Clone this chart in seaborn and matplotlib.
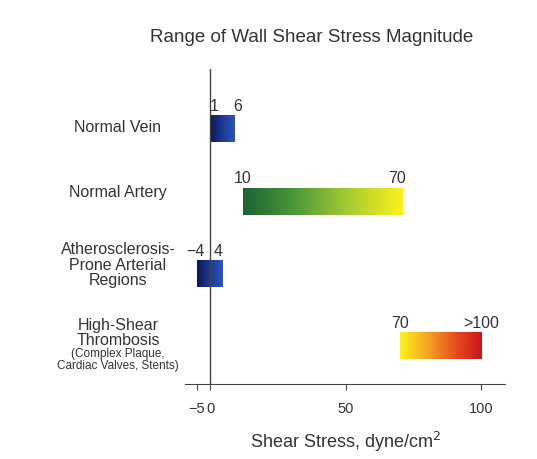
import matplotlib
matplotlib.use("Agg")
import matplotlib.pyplot as plt
import seaborn as sns
import numpy as np
from matplotlib.colors import LinearSegmentedColormap

sns.set_style("white")
plt.rcParams['font.family'] = ['Liberation Sans', 'DejaVu Sans']

categories = ["Normal Vein", "Normal Artery", "Atherosclerosis-\nProne Arterial\nRegions", "High-Shear\nThrombosis"]
starts = [0, 12, -5, 70]
ends = [9, 71, 4.5, 100]
lo_labels = ["1", "10", "\u22124", "70"]
hi_labels = ["6", "70", "4", ">100"]
tick_vals = [-5, 0, 50, 100]
tick_labels = ["\u22125", "0", "50", "100"]

cmaps = [
    LinearSegmentedColormap.from_list("v", ["#0b1850", "#1c3a9a", "#2d55b8"]),
    LinearSegmentedColormap.from_list("a", ["#1a6434", "#4f9a3a", "#a8cc30", "#fbf21c"]),
    LinearSegmentedColormap.from_list("t", ["#0b1850", "#1c3a9a", "#2d55b8"]),
    LinearSegmentedColormap.from_list("h", ["#fbf21c", "#f5a623", "#e8501e", "#c8141a"]),
]

fig = plt.figure(figsize=(5.37, 4.6), dpi=100)
ax = fig.add_axes([0.345, 0.163, 0.595, 0.685])
h = 0.37
grad = np.linspace(0, 1, 256).reshape(1, -1)
for i in range(4):
    ax.imshow(grad, cmap=cmaps[i], aspect='auto',
              extent=[starts[i], ends[i], i + h / 2, i - h / 2], zorder=2)
ax.set_xlim(-9.2, 108.8)
ax.set_ylim(3.53, -0.83)

tc = "#333333"
fs = 11.5
ax.text(1.5, -0.22, lo_labels[0], ha='center', va='bottom', fontsize=fs, color=tc)
ax.text(10, -0.22, hi_labels[0], ha='center', va='bottom', fontsize=fs, color=tc)
ax.text(12, 0.78, lo_labels[1], ha='center', va='bottom', fontsize=fs, color=tc)
ax.text(69, 0.78, hi_labels[1], ha='center', va='bottom', fontsize=fs, color=tc)
ax.text(-5.5, 1.78, lo_labels[2], ha='center', va='bottom', fontsize=fs, color=tc)
ax.text(3, 1.78, hi_labels[2], ha='center', va='bottom', fontsize=fs, color=tc)
ax.text(70, 2.78, lo_labels[3], ha='center', va='bottom', fontsize=fs, color=tc)
ax.text(100, 2.78, hi_labels[3], ha='center', va='bottom', fontsize=fs, color=tc)

ax.axvline(0, color="#444444", lw=1, zorder=3)
sns.despine(ax=ax, left=True)
ax.spines['bottom'].set_color("#444444")
ax.set_yticks([])
ax.set_xticks(tick_vals)
ax.set_xticklabels(tick_labels, fontsize=10.5, color=tc)
ax.tick_params(axis='x', length=4, color="#444444", bottom=True, pad=8)
ax.set_xlabel("Shear Stress, dyne/cm$^2$", fontsize=13, color=tc, labelpad=10)

ycent = [128, 192, 265, 333]
for i, c in enumerate(categories):
    fig.text(118 / 537, 1 - ycent[i] / 460, c, ha='center', va='center',
             fontsize=11.5, color=tc, linespacing=1.0)
fig.text(118 / 537, 1 - 360 / 460, "(Complex Plaque,\nCardiac Valves, Stents)",
         ha='center', va='center', fontsize=8.5, color=tc, linespacing=1.0)
fig.text(312 / 537, 1 - 38 / 460, "Range of Wall Shear Stress Magnitude",
         ha='center', va='center', fontsize=13.5, color=tc)
fig.savefig("out.png", dpi=100)
